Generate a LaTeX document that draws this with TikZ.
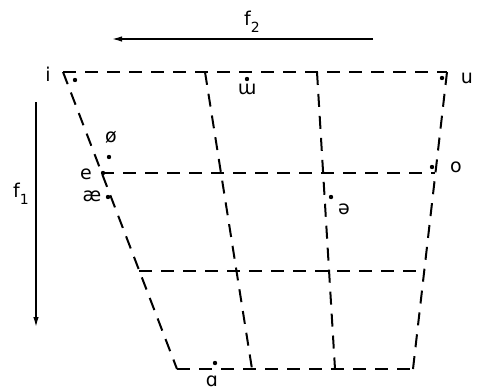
\documentclass[tikz,border=0pt]{standalone}
\usepackage{fontspec}
\setmainfont{DejaVu Sans}
\usetikzlibrary{arrows.meta}
\tikzset{
  grid/.style={line width=2pt, dash pattern=on 13pt off 9pt},
  vdot/.style={circle, fill=black, inner sep=0pt, minimum size=4.4pt},
  lab/.style={inner sep=0pt, font=\fontsize{19}{19}\selectfont},
  axis/.style={line width=1.4pt, -{Latex[length=10pt,width=5.5pt]}}
}
\begin{document}
\begin{tikzpicture}[x=1pt,y=-1pt]
\useasboundingbox (0,0) rectangle (481,391);
% corners
\coordinate (tl) at (63,72);
\coordinate (tr) at (447,72);
\coordinate (ml) at (101,173);
\coordinate (mr) at (435,173);
\coordinate (ll) at (139,271);
\coordinate (lr) at (424,271);
\coordinate (bl) at (177,369);
\coordinate (br) at (413,369);
\coordinate (v1t) at (205,72);
\coordinate (v1b) at (252,369);
\coordinate (v2t) at (317,72);
\coordinate (v2b) at (335,369);
% grid lines
\draw[grid] (tl) -- (tr);
\draw[grid] (ml) -- (mr);
\draw[grid] (ll) -- (lr);
\draw[grid] (bl) -- (br);
\draw[grid] (tl) -- (bl);
\draw[grid] (tr) -- (br);
\draw[grid] (v1t) -- (v1b);
\draw[grid] (v2t) -- (v2b);
% axes
\coordinate (f2s) at (373,39);
\coordinate (f2e) at (112,39);
\coordinate (f1s) at (36,102);
\coordinate (f1e) at (36,327);
\draw[axis] (f2s) -- (f2e);
\draw[axis] (f1s) -- (f1e);
\node[lab] (f2) at (252,22) {f\raisebox{-0.35em}{\fontsize{14}{14}\selectfont 2}};
\node[lab] (f1) at (21,194) {f\raisebox{-0.35em}{\fontsize{14}{14}\selectfont 1}};
% vowel dots
\node[vdot] (di) at (75,80) {};
\node[vdot] (dw) at (247,79) {};
\node[vdot] (du) at (442,78) {};
\node[vdot] (doe) at (109,157) {};
\node[vdot] (de) at (103,173) {};
\node[vdot] (dae) at (108,197) {};
\node[vdot] (do) at (432,167) {};
\node[vdot] (dschwa) at (331,197) {};
\node[vdot] (da) at (215,363) {};
% labels
\node[lab] (li) at (48,74) {i};
\node[lab] (lw) at (247,89) {ɯ};
\node[lab] (lu) at (467,78) {u};
\node[lab] (loe) at (111,137) {ø};
\node[lab] (le) at (86,174) {e};
\node[lab] (lae) at (92,196) {æ};
\node[lab] (lo) at (456,167) {o};
\node[lab] (lschwa) at (344,209) {ə};
\node[lab] (la) at (212,381) {ɑ};
\end{tikzpicture}
\end{document}
